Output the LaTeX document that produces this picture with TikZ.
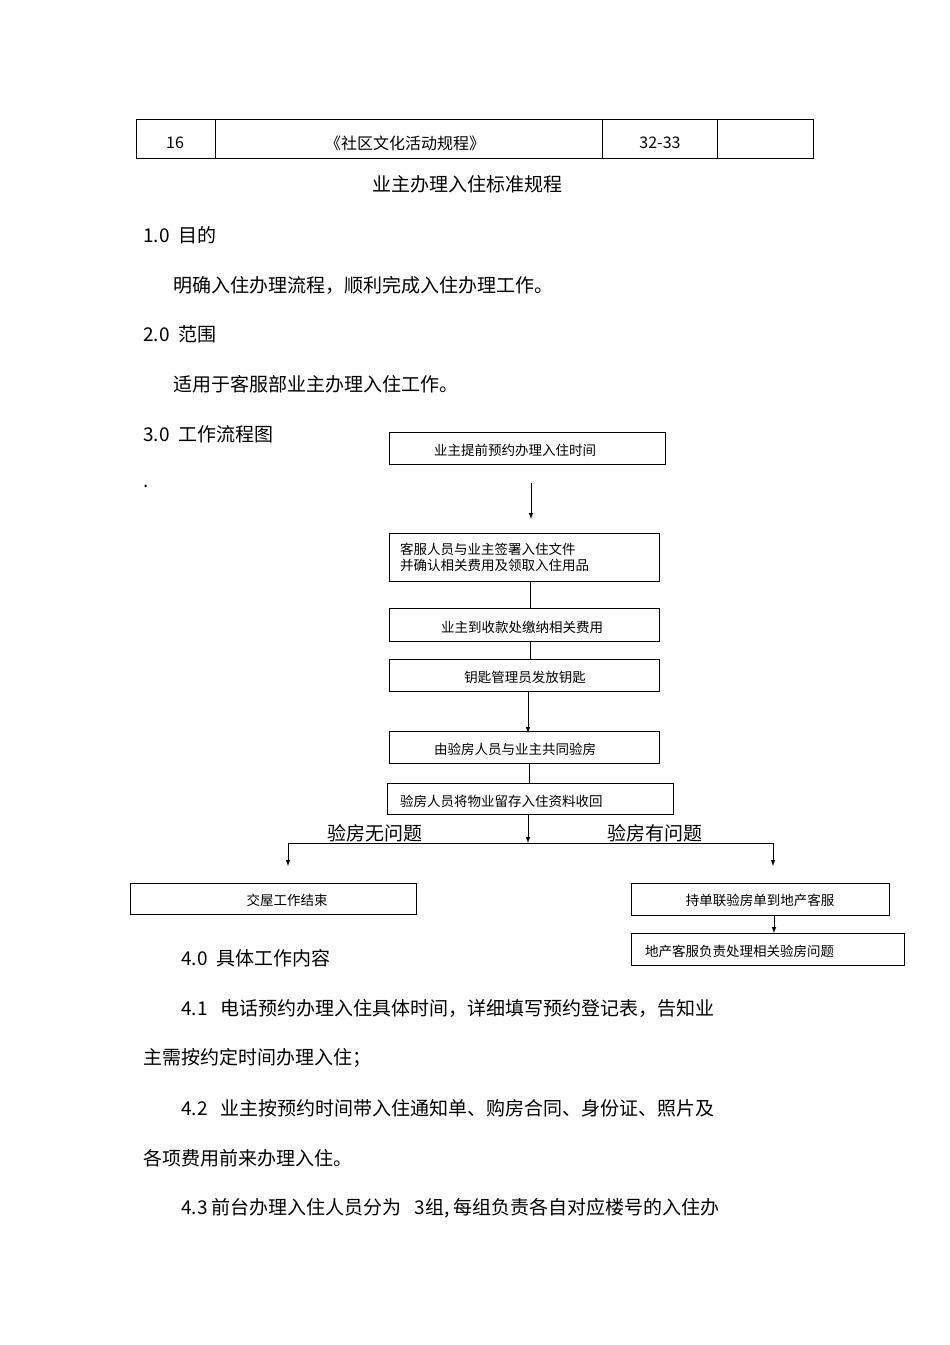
\documentclass[tikz,border=0pt]{standalone}
\usepackage{fontspec}
\setmainfont{Noto Sans CJK SC}
\begin{document}
\begin{tikzpicture}[x=1pt,y=-1pt,
  bx/.style={draw,line width=0.9pt,fill=none},
  bt/.style={font=\fontsize{13.5}{16}\selectfont,inner sep=0pt},
  tx/.style={font=\fontsize{19}{22}\selectfont,anchor=west,inner sep=0pt},
  ar/.style={-latex,line width=1pt},
  ln/.style={line width=1pt}]
\useasboundingbox (0,0) rectangle (950,1345);
% table
\draw[line width=0.8pt] (136,119) rectangle (813,158);
\draw[line width=0.8pt] (215,119)--(215,158) (602,119)--(602,158) (717,119)--(717,158);
\node[font=\fontsize{16}{18}\selectfont] (c1) at (175,143) {16};
\node[font=\fontsize{16}{18}\selectfont] (c2) at (405,143) {《社区文化活动规程》};
\node[font=\fontsize{16}{18}\selectfont] (c3) at (660,143) {32-33};
\node[font=\fontsize{19}{22}\selectfont] (title) at (467,184) {业主办理入住标准规程};
\node[tx] (t1) at (143,235) {1.0\ \ 目的};
\node[tx] (t2) at (173,285) {明确入住办理流程，顺利完成入住办理工作。};
\node[tx] (t3) at (143,334) {2.0\ \ 范围};
\node[tx] (t4) at (173,384) {适用于客服部业主办理入住工作。};
\node[tx] (t5) at (143,434) {3.0\ \ 工作流程图};
\node[tx] (t6) at (143,486) {.};
% boxes
\draw[bx] (389,432) rectangle (665,464);
\node[bt] (b1) at (515,450) {业主提前预约办理入住时间};
\coordinate (a1s) at (531,483); \coordinate (a1e) at (531,519);
\draw[ar] (a1s)--(a1e);
\draw[bx] (389,533) rectangle (659,581);
\node[bt,anchor=west,align=left] (b2) at (400,557) {客服人员与业主签署入住文件\\并确认相关费用及领取入住用品};
\draw[ln] (530,581)--(530,608);
\draw[bx] (389,608) rectangle (659,641);
\node[bt] (b3) at (522,627) {业主到收款处缴纳相关费用};
\draw[ln] (530,641)--(530,659);
\draw[bx] (389,659) rectangle (659,691);
\node[bt] (b4) at (525,677) {钥匙管理员发放钥匙};
\draw[ar] (528,691)--(528,733);
\draw[bx] (389,731) rectangle (659,763);
\node[bt] (b5) at (515,749) {由验房人员与业主共同验房};
\draw[ln] (529,763)--(529,783);
\draw[bx] (387,783) rectangle (673,814);
\node[bt,anchor=west] (b6) at (400,801) {验房人员将物业留存入住资料收回};
\draw[ar] (528,814)--(528,843);
\draw[ln] (288,843)--(773,843);
\draw[ar] (288,843)--(288,866);
\draw[ar] (773,843)--(773,866);
\node[font=\fontsize{19}{22}\selectfont,inner sep=0pt] (l1) at (375,833) {验房无问题};
\node[font=\fontsize{19}{22}\selectfont,inner sep=0pt] (l2) at (655,833) {验房有问题};
\draw[bx] (130,883) rectangle (416,914);
\node[bt] (b7) at (287,900) {交屋工作结束};
\draw[bx] (631,883) rectangle (889,915);
\node[bt] (b8) at (760,900) {持单联验房单到地产客服};
\draw[ar] (774,915)--(774,933);
\draw[bx] (631,933) rectangle (904,965);
\node[bt,anchor=west] (b9) at (645,951) {地产客服负责处理相关验房问题};
% body
\node[tx] (p1) at (181,958) {4.0\ \ 具体工作内容};
\node[tx] (p2) at (181,1008) {4.1\ \ \ 电话预约办理入住具体时间，详细填写预约登记表，告知业};
\node[tx] (p3) at (143,1058) {主需按约定时间办理入住；};
\node[tx] (p4) at (181,1108) {4.2\ \ \ 业主按预约时间带入住通知单、购房合同、身份证、照片及};
\node[tx] (p5) at (143,1158) {各项费用前来办理入住。};
\node[tx] (p6) at (181,1208) {4.3\ 前台办理入住人员分为\ \ \ 3组, 每组负责各自对应楼号的入住办};
\end{tikzpicture}
\end{document}
